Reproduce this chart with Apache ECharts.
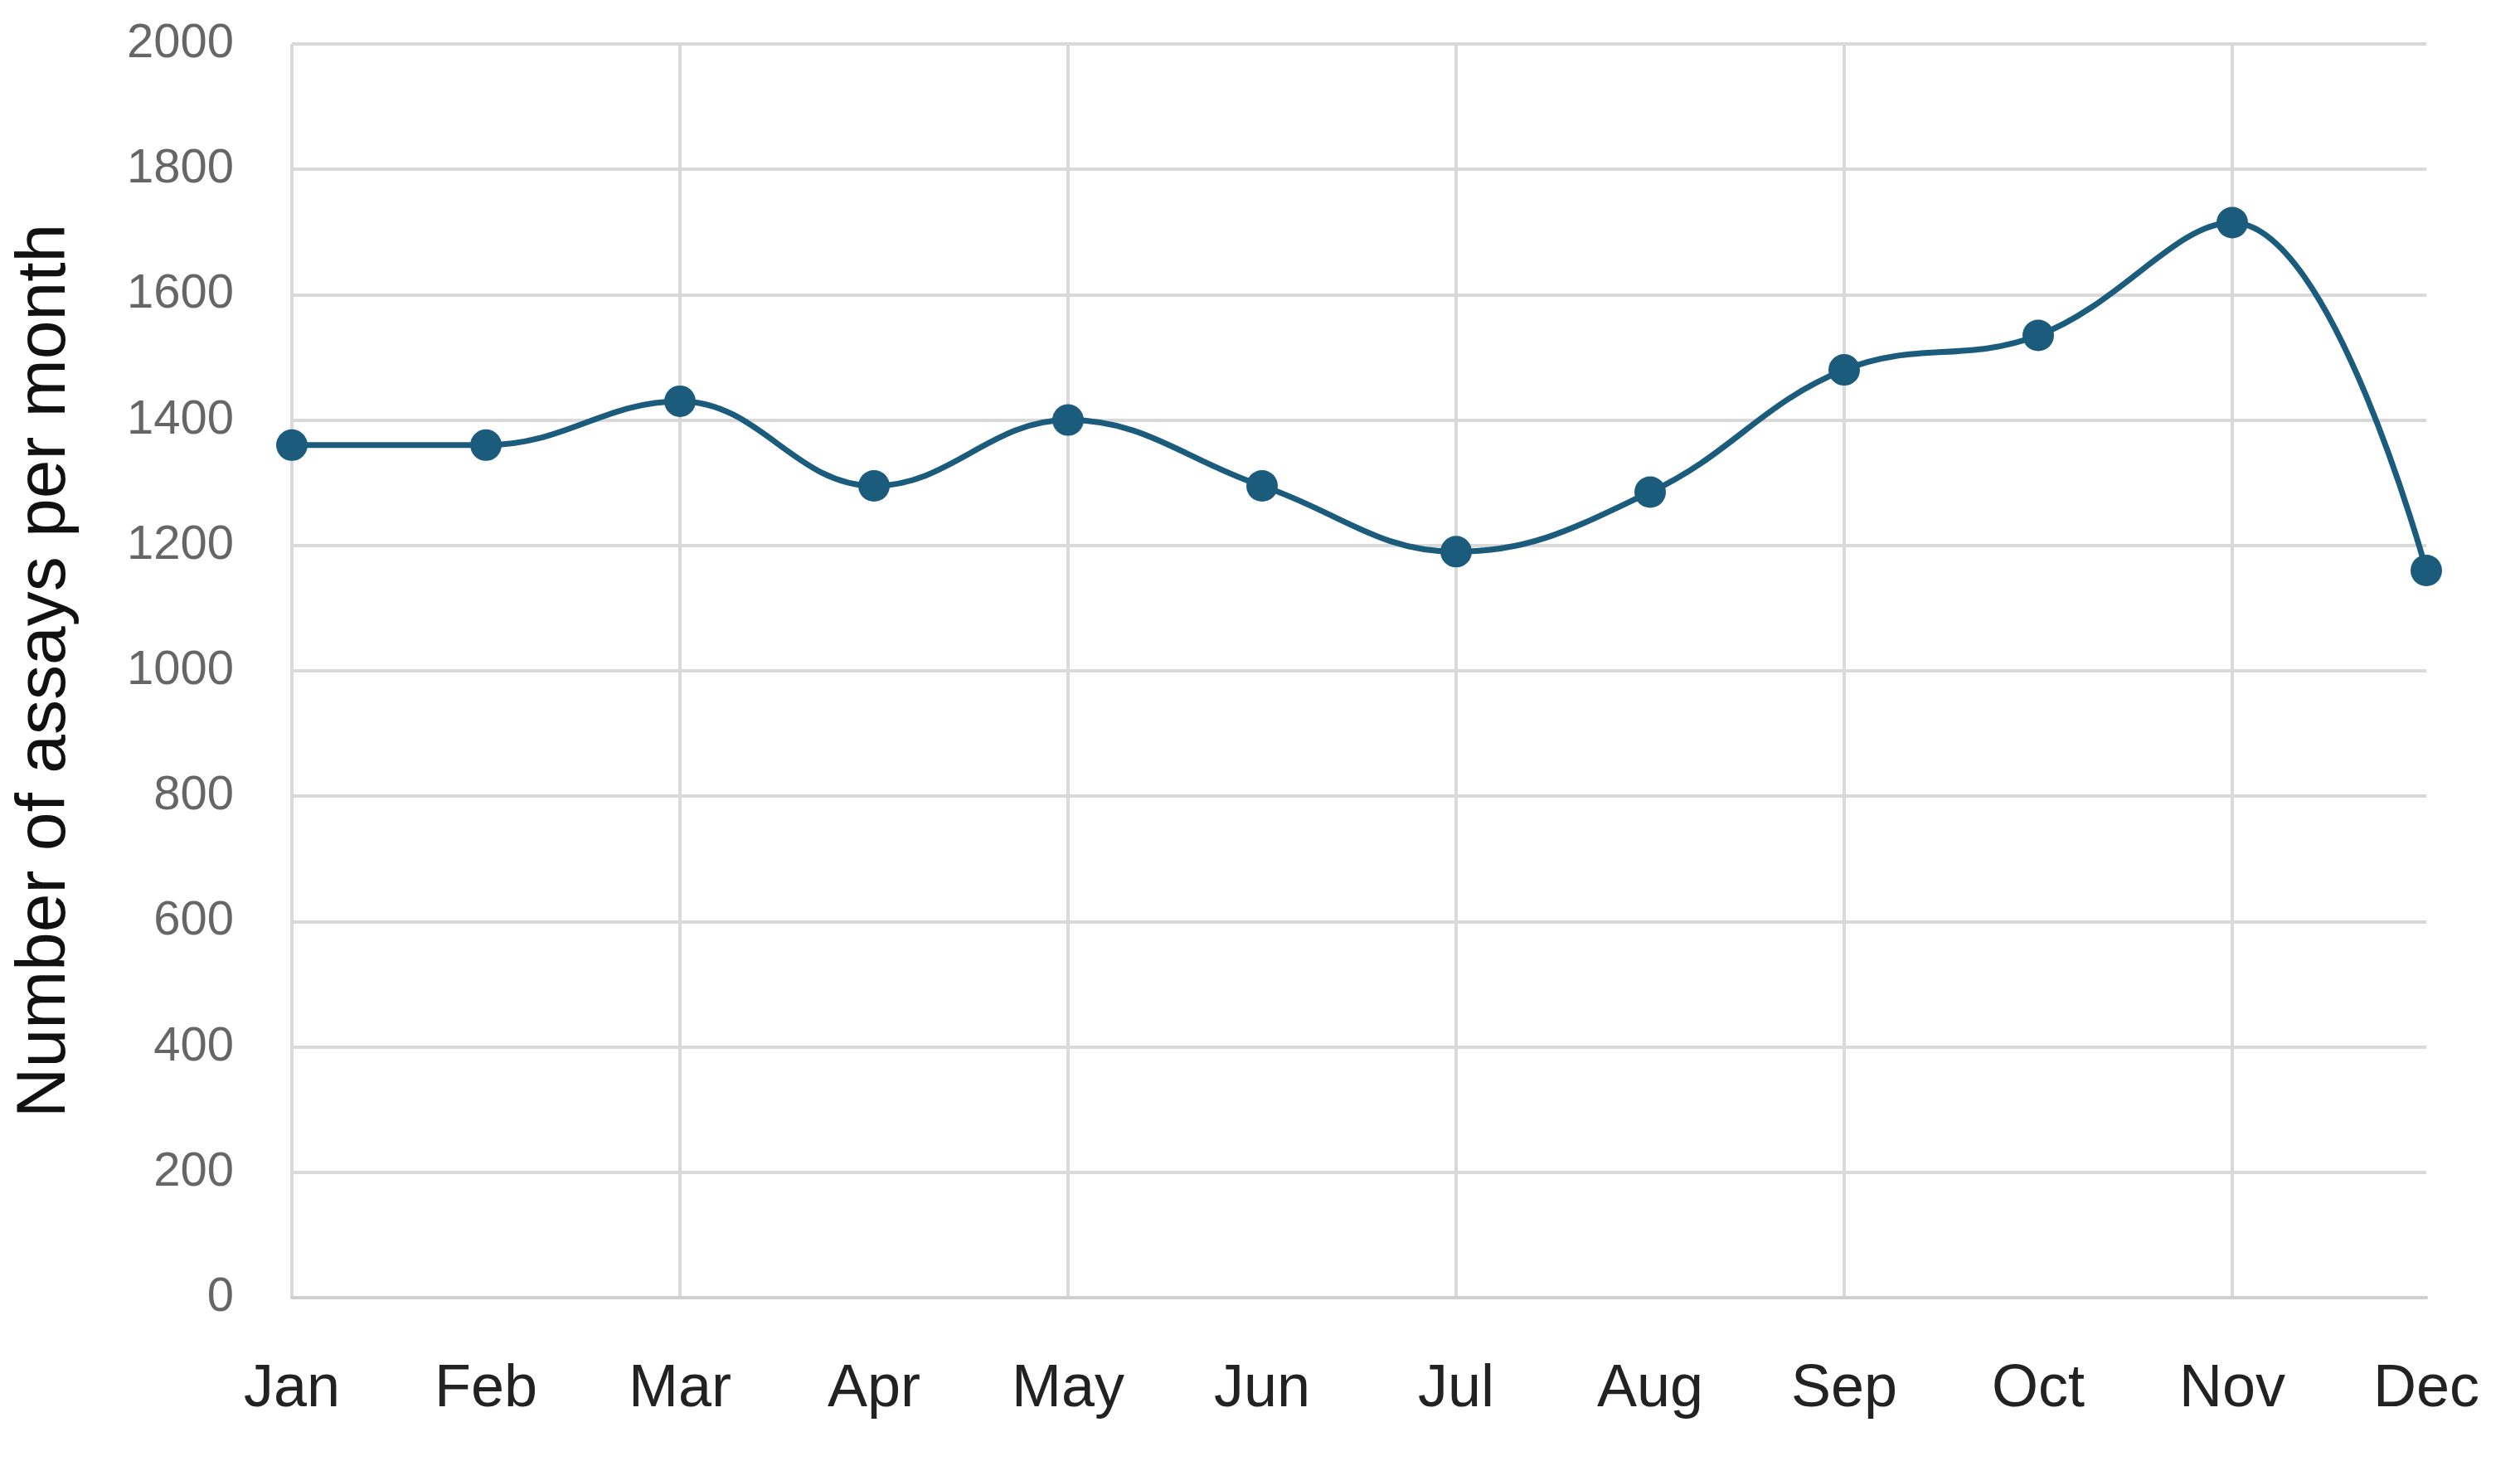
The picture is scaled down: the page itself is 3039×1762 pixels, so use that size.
<!DOCTYPE html>
<html>
<head>
<meta charset="utf-8">
<script src="https://cdn.jsdelivr.net/npm/echarts@6/dist/echarts.min.js"></script>
<style>html,body{margin:0;padding:0;background:#fff;}#chart{width:3039px;height:1762px;}</style>
</head>
<body>
<div id="chart"></div>
<script>
// data
var months = ["Jan", "Feb", "Mar", "Apr", "May", "Jun", "Jul", "Aug", "Sep", "Oct", "Nov", "Dec"];
var assays = [1360, 1360, 1430, 1295, 1400, 1295, 1190, 1285, 1480, 1535, 1715, 1160];
var yTitle = "Number of assays per month";

var chart = echarts.init(document.getElementById("chart"));
chart.setOption({
  backgroundColor: "#fff",
  grid: { left: 352, right: 86 + 27, top: 53, bottom: 185 + 12, containLabel: false },
  xAxis: {
    type: "category",
    data: months,
    boundaryGap: false,
    axisLine: { lineStyle: { color: "#d0d0d0", width: 4 } },
    axisTick: { show: false },
    axisLabel: { color: "#222", fontSize: 72, margin: 75, fontFamily: "Liberation Sans, Arial" },
    splitLine: { show: true, interval: 1, lineStyle: { color: "#d9d9d9", width: 4 } }
  },
  yAxis: {
    type: "value",
    min: 0, max: 2000, interval: 200,
    name: yTitle,
    nameLocation: "middle",
    nameGap: 255,
    nameTextStyle: { color: "#111", fontSize: 84, fontFamily: "Liberation Sans, Arial" },
    axisLine: { show: false },
    axisTick: { show: false },
    axisLabel: { color: "#666", fontSize: 58, margin: 70, fontFamily: "Liberation Sans, Arial",
      formatter: function (v) { return String(v); } },
    splitLine: { lineStyle: { color: "#d9d9d9", width: 4 } }
  },
  series: [{
    type: "line",
    data: assays,
    smooth: 0.4,
    symbol: "circle",
    symbolSize: 38,
    lineStyle: { color: "#1b5c7c", width: 7 },
    itemStyle: { color: "#1b5c7c" }
  }]
});
</script>
</body>
</html>
